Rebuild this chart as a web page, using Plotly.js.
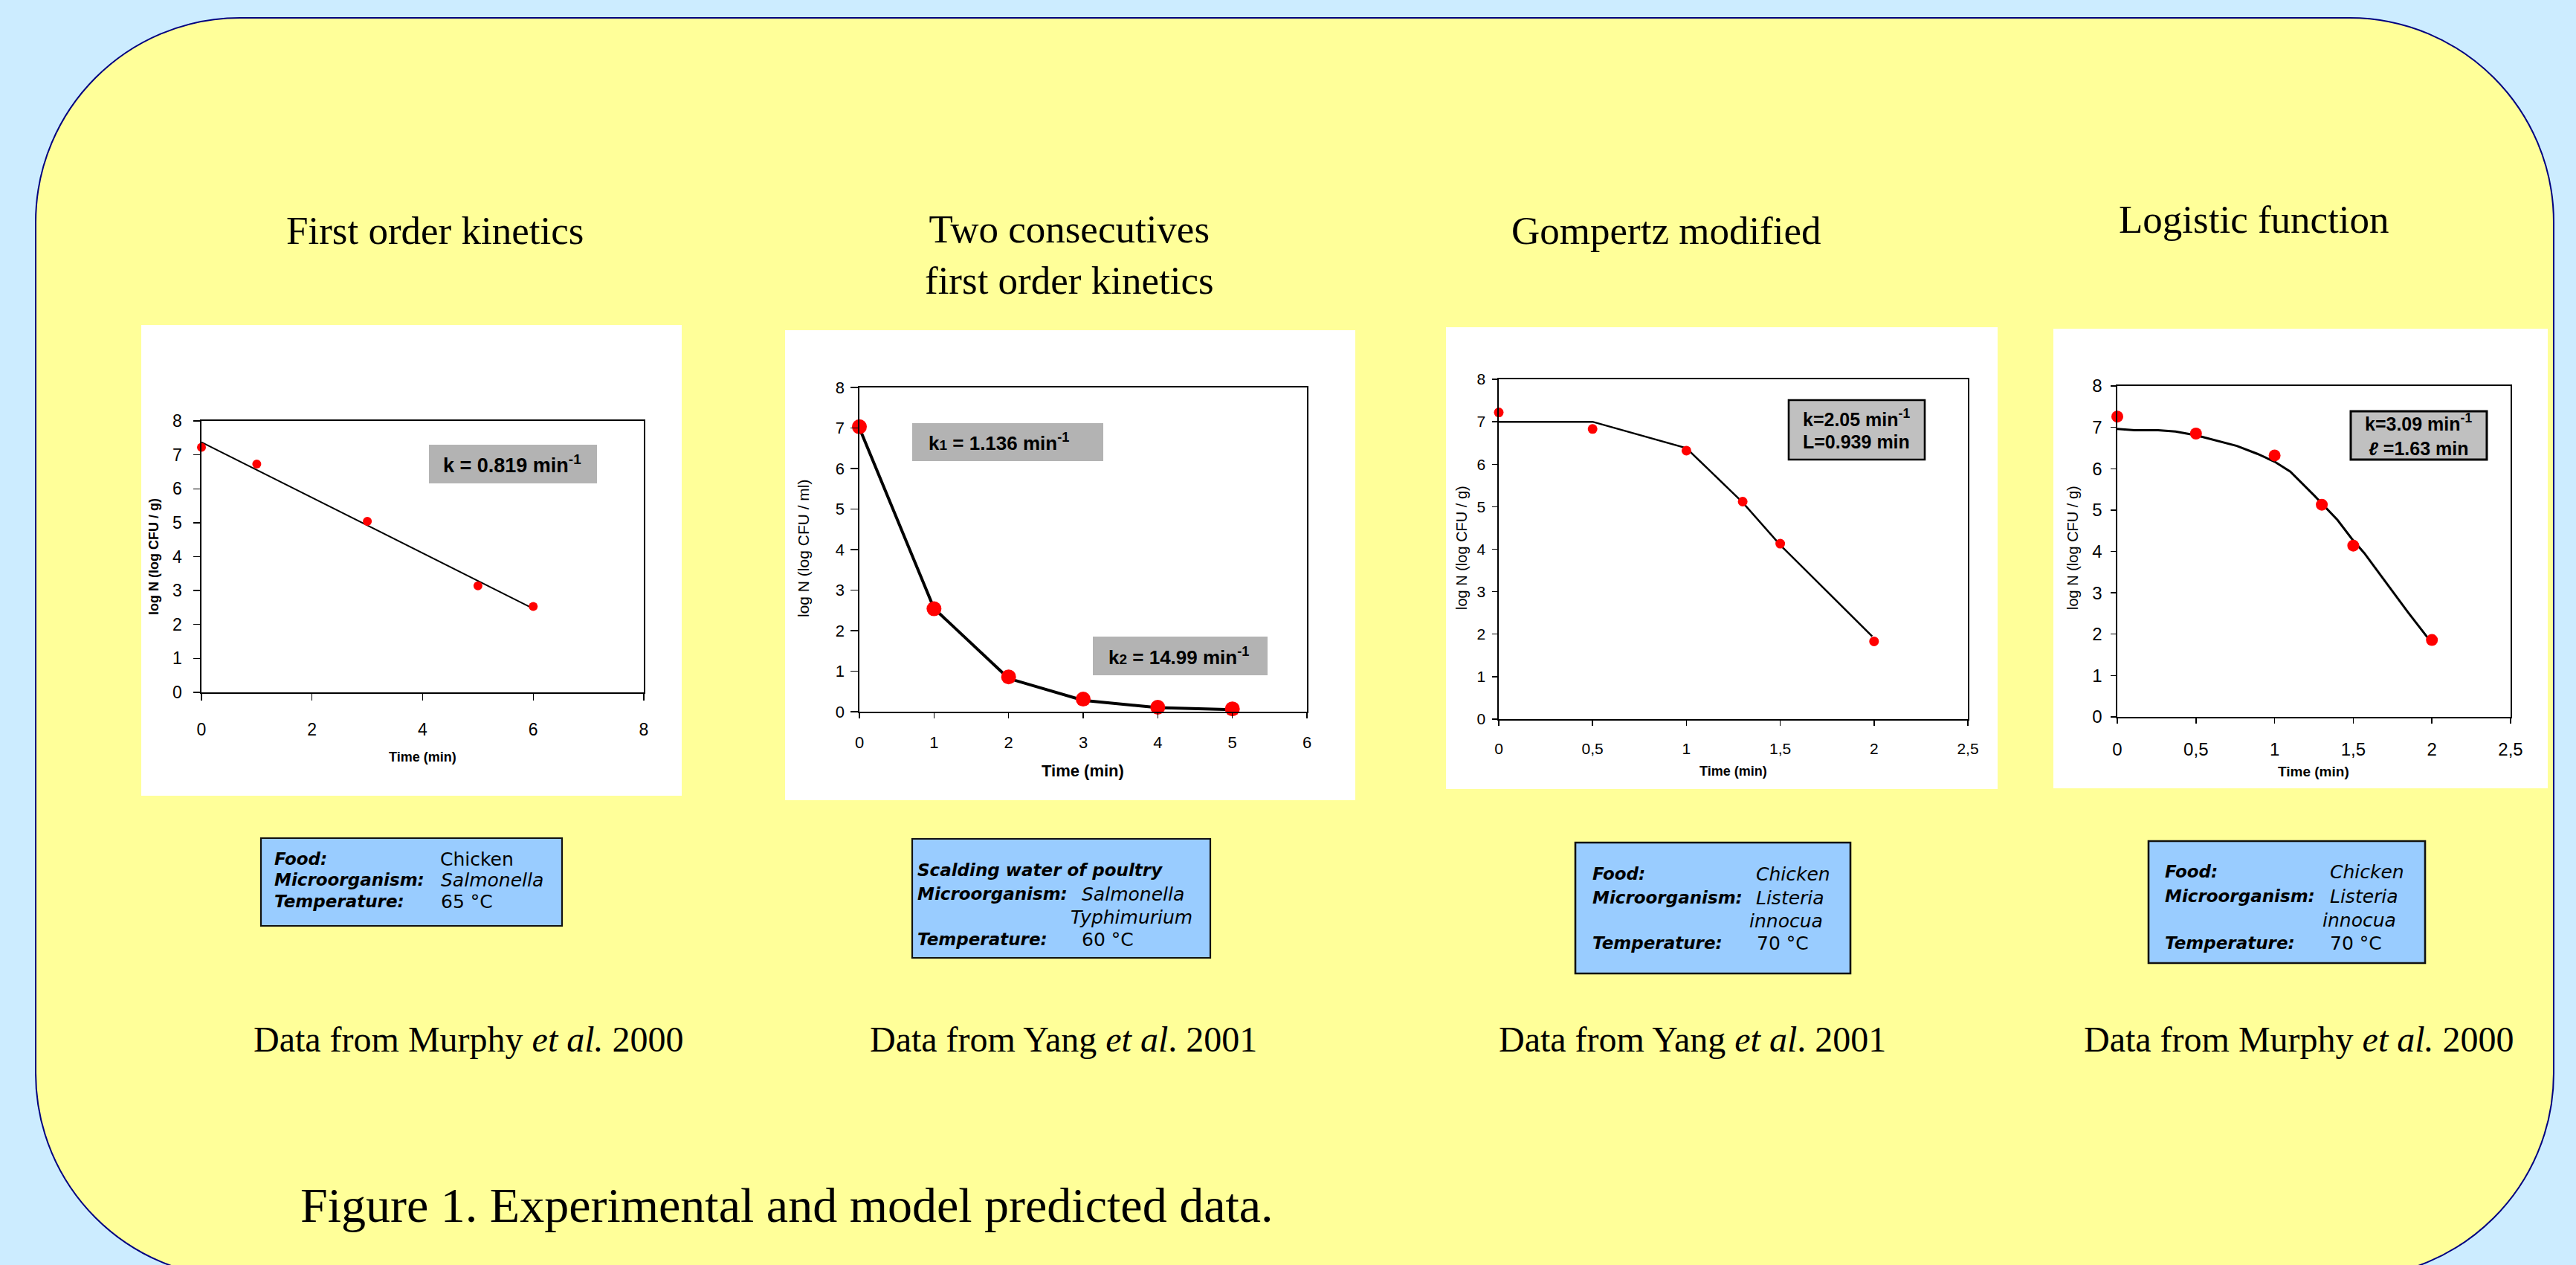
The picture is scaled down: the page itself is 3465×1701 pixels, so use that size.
<!DOCTYPE html>
<html>
<head>
<meta charset="utf-8">
<script src="https://cdn.plot.ly/plotly-3.0.1.min.js"></script>
<style>html,body{margin:0;padding:0;overflow:hidden;background:#CCECFF;}#chart{width:3465px;height:1701px;}</style>
</head>
<body>
<div id="chart"></div>
<script>
// ---------- DATA ----------
// Panel 1: First order kinetics (Murphy et al. 2000)
const p1Time = [0, 1, 3, 5, 6];
const p1LogN = [7.22, 6.73, 5.04, 3.14, 2.53];
const p1FitTime = [0, 6];
const p1FitLogN = [7.37, 2.47];
// Panel 2: Two consecutive first order kinetics (Yang et al. 2001)
const p2Time = [0, 1, 2, 3, 4, 5];
const p2LogN = [7.03, 2.54, 0.86, 0.31, 0.11, 0.07];
const p2FitTime = [0, 1, 2, 3, 4, 5];
const p2FitLogN = [7.0, 2.55, 0.82, 0.28, 0.10, 0.05];
// Panel 3: Gompertz modified (Yang et al. 2001)
const p3Time = [0, 0.5, 1, 1.3, 1.5, 2];
const p3LogN = [7.22, 6.83, 6.32, 5.12, 4.13, 1.83];
const p3FitTime = [0, 0.5, 1, 1.3, 1.5, 1.99];
const p3FitLogN = [7.0, 7.0, 6.38, 5.1, 4.1, 1.95];
// Panel 4: Logistic function (Murphy et al. 2000)
const p4Time = [0, 0.5, 1, 1.3, 1.5, 2];
const p4LogN = [7.26, 6.85, 6.32, 5.13, 4.14, 1.86];
const p4FitTime = [0, 0.11, 0.26, 0.37, 0.5, 0.76, 0.89, 1.0, 1.1, 1.25, 1.4, 1.49, 1.57, 1.75, 1.85, 1.98];
const p4FitLogN = [6.96, 6.93, 6.93, 6.9, 6.81, 6.55, 6.36, 6.17, 5.93, 5.36, 4.76, 4.31, 3.96, 3.03, 2.52, 1.88];
// Tick labels
const p34TickVals = [0, 0.5, 1, 1.5, 2, 2.5];
const p34TickText = ['0', '0,5', '1', '1,5', '2', '2,5'];
const panelTitles = ['First order kinetics', 'Two consecutives<br>first order kinetics', 'Gompertz modified', 'Logistic function'];
const sources = ['Data from Murphy <i>et al.</i> 2000', 'Data from Yang <i>et al</i>. 2001', 'Data from Yang <i>et al</i>. 2001', 'Data from Murphy <i>et al.</i> 2000'];

// ---------- LAYOUT HELPERS ----------
const W = 3465, H = 1701;
const X = p => p / W;
const Y = p => 1 - p / H;
const SANS = 'Liberation Sans, Arial, sans-serif';
const SERIF = 'Liberation Serif, Times New Roman, serif';
const GOTH = 'DejaVu Sans, Verdana, sans-serif';

function xAx(x0, x1, range, ticks, tickfont, ticklen, standoff, anchor) {
  const a = {domain: [X(x0), X(x1)], range: range, anchor: anchor, showgrid: false, zeroline: false,
    showline: true, mirror: true, linecolor: '#000', linewidth: 1.6, ticks: 'outside', ticklen: ticklen,
    tickwidth: 1.4, tickcolor: '#000', tickfont: {family: SANS, size: tickfont, color: '#000'},
    ticklabelstandoff: standoff, fixedrange: true};
  Object.assign(a, ticks);
  return a;
}
function yAx(y0, y1, tickfont, ticklen, standoff, anchor) {
  return {domain: [Y(y1), Y(y0)], range: [0, 8], dtick: 1, tick0: 0, anchor: anchor, showgrid: false, zeroline: false,
    showline: true, mirror: true, linecolor: '#000', linewidth: 1.6, ticks: 'outside', ticklen: ticklen,
    tickwidth: 1.4, tickcolor: '#000', tickfont: {family: SANS, size: tickfont, color: '#000'},
    ticklabelstandoff: standoff, fixedrange: true};
}

const traces = [
  {x: p1FitTime, y: p1FitLogN, xaxis: 'x', yaxis: 'y', mode: 'lines', line: {color: '#000', width: 2}, cliponaxis: false},
  {x: p1Time, y: p1LogN, xaxis: 'x', yaxis: 'y', mode: 'markers', marker: {color: '#FF0000', size: 12}, cliponaxis: false},
  {x: p2FitTime, y: p2FitLogN, xaxis: 'x2', yaxis: 'y2', mode: 'lines', line: {color: '#000', width: 4}, cliponaxis: false},
  {x: p2Time, y: p2LogN, xaxis: 'x2', yaxis: 'y2', mode: 'markers', marker: {color: '#FF0000', size: 20}, cliponaxis: false},
  {x: p3FitTime, y: p3FitLogN, xaxis: 'x3', yaxis: 'y3', mode: 'lines', line: {color: '#000', width: 2.5}, cliponaxis: false},
  {x: p3Time, y: p3LogN, xaxis: 'x3', yaxis: 'y3', mode: 'markers', marker: {color: '#FF0000', size: 13}, cliponaxis: false},
  {x: p4FitTime, y: p4FitLogN, xaxis: 'x4', yaxis: 'y4', mode: 'lines', line: {color: '#000', width: 3}, cliponaxis: false},
  {x: p4Time, y: p4LogN, xaxis: 'x4', yaxis: 'y4', mode: 'markers', marker: {color: '#FF0000', size: 16}, cliponaxis: false}
];

// ---------- SHAPES ----------
function roundRectPath(x0, y0, x1, y1, r) {
  const k = 0.5523 * r;
  const P = (x, y) => X(x) + ',' + Y(y);
  return 'M' + P(x0 + r, y0) + ' L' + P(x1 - r, y0) +
    ' C' + P(x1 - r + k, y0) + ' ' + P(x1, y0 + r - k) + ' ' + P(x1, y0 + r) +
    ' L' + P(x1, y1 - r) +
    ' C' + P(x1, y1 - r + k) + ' ' + P(x1 - r + k, y1) + ' ' + P(x1 - r, y1) +
    ' L' + P(x0 + r, y1) +
    ' C' + P(x0 + r - k, y1) + ' ' + P(x0, y1 - r + k) + ' ' + P(x0, y1 - r) +
    ' L' + P(x0, y0 + r) +
    ' C' + P(x0, y0 + r - k) + ' ' + P(x0 + r - k, y0) + ' ' + P(x0 + r, y0) + ' Z';
}
function rect(x0, y0, x1, y1, fill, lineColor, lineWidth, layer) {
  return {type: 'rect', xref: 'paper', yref: 'paper', x0: X(x0), x1: X(x1), y0: Y(y1), y1: Y(y0),
    fillcolor: fill, line: {color: lineColor || fill, width: lineWidth || 0}, layer: layer || 'below'};
}
const shapes = [
  {type: 'path', xref: 'paper', yref: 'paper', path: roundRectPath(48, 24, 3435, 1718, 275),
    fillcolor: '#FFFF99', line: {color: '#000080', width: 2}, layer: 'below'},
  rect(190, 437, 917, 1070, '#FFFFFF'),
  rect(1056, 444, 1823, 1076, '#FFFFFF'),
  rect(1945, 440, 2687, 1061, '#FFFFFF'),
  rect(2762, 442, 3427, 1060, '#FFFFFF'),
  // info boxes
  rect(351, 1127, 756, 1245, '#99CCFF', '#111', 2.2, 'above'),
  rect(1227, 1128, 1628, 1288, '#99CCFF', '#111', 2.2, 'above'),
  rect(2119, 1133, 2489, 1309, '#99CCFF', '#111', 2.6, 'above'),
  rect(2890, 1131, 3262, 1295, '#99CCFF', '#111', 2.6, 'above'),
  // parameter boxes
  rect(577, 598, 803, 650, '#B3B3B3', null, 0, 'above'),
  rect(1227, 569, 1484, 620, '#B3B3B3', null, 0, 'above'),
  rect(1470, 856, 1705, 908, '#B3B3B3', null, 0, 'above'),
  rect(2406, 538, 2589, 618, '#C0C0C0', '#000', 2.6, 'above'),
  rect(3162, 553, 3345, 618, '#C0C0C0', '#000', 3, 'above')
];

// ---------- ANNOTATIONS ----------
const ann = [];
function txt(text, x, y, size, family, opts) {
  const a = {text: text, xref: 'paper', yref: 'paper', x: X(x), y: Y(y), showarrow: false,
    xanchor: 'center', yanchor: 'middle', font: {family: family, size: size, color: '#000'}};
  Object.assign(a, opts || {});
  ann.push(a);
}
// panel titles
txt(panelTitles[0], 585, 310, 53, SERIF);
txt(panelTitles[1], 1438, 343, 53, SERIF);
txt(panelTitles[2], 2241, 310, 53, SERIF);
txt(panelTitles[3], 3032, 295, 53, SERIF);
// sources
txt(sources[0], 630, 1397, 48, SERIF);
txt(sources[1], 1430, 1397, 48, SERIF);
txt(sources[2], 2276, 1397, 48, SERIF);
txt(sources[3], 3092, 1397, 48, SERIF);
// caption
txt('Figure 1. Experimental and model predicted data.', 402, 1620, 66, SERIF, {xanchor: 'left'});

// axis titles
txt('<b>log N (log CFU / g)</b>', 207, 749, 18, SANS, {textangle: -90});
txt('<b>Time (min)</b>', 568, 1018, 18, SANS);
txt('log N (log CFU / ml)', 1080, 737, 21, SANS, {textangle: -90});
txt('<b>Time (min)</b>', 1456, 1036, 22, SANS);
txt('log N (log CFU / g)', 1966, 737, 20, SANS, {textangle: -90});
txt('<b>Time (min)</b>', 2331, 1037, 18, SANS);
txt('log N (log CFU / g)', 2788, 737, 20, SANS, {textangle: -90});
txt('<b>Time (min)</b>', 3112, 1037, 19, SANS);

// parameter box texts
txt('<b>k = 0.819 min<sup>-1</sup></b>', 689, 624, 27, SANS);
txt('<b>k<span style="font-size:19px">1</span> = 1.136 min<sup>-1</sup></b>', 1247, 594, 26, SANS, {xanchor: 'left'});
txt('<b>k<span style="font-size:19px">2</span> = 14.99 min<sup>-1</sup></b>', 1489, 882, 26, SANS, {xanchor: 'left'});
txt('<b>k=2.05 min<sup>-1</sup></b>', 2497, 562, 25, SANS);
txt('<b>L=0.939 min</b>', 2497, 594, 25, SANS);
txt('<b>k=3.09 min<sup>-1</sup></b>', 3253, 568, 25, SANS);
txt('<b><i>ℓ</i> =1.63 min</b>', 3253, 603, 25, SANS);

// info box texts
const L = {xanchor: 'left'};
function lab(t, x, y) { txt('<b><i>' + t + '</i></b>', x, y, 23, GOTH, L); }
function val(t, x, y) { txt(t, x, y, 25, GOTH, L); }
lab('Food:', 367, 1155); lab('Microorganism:', 367, 1183); lab('Temperature:', 367, 1212);
val('Chicken', 590, 1155); val('<i>Salmonella</i>', 591, 1183); val('65 °C', 591, 1212);

lab('Scalding water of poultry', 1232, 1170); lab('Microorganism:', 1232, 1202); lab('Temperature:', 1232, 1263);
val('<i>Salmonella</i>', 1453, 1202); val('<i>Typhimurium</i>', 1438, 1233); val('60 °C', 1453, 1263);

lab('Food:', 2140, 1175); lab('Microorganism:', 2140, 1207); lab('Temperature:', 2140, 1268);
val('<i>Chicken</i>', 2360, 1175); val('<i>Listeria</i>', 2360, 1207); val('<i>innocua</i>', 2351, 1238); val('70 °C', 2361, 1268);

lab('Food:', 2910, 1172); lab('Microorganism:', 2910, 1205); lab('Temperature:', 2910, 1268);
val('<i>Chicken</i>', 3132, 1172); val('<i>Listeria</i>', 3132, 1205); val('<i>innocua</i>', 3122, 1237); val('70 °C', 3132, 1268);

const layout = {
  width: W, height: H,
  margin: {l: 0, r: 0, t: 0, b: 0, pad: 0},
  paper_bgcolor: '#CCECFF', plot_bgcolor: '#FFFFFF',
  showlegend: false, hovermode: false,
  xaxis: xAx(271, 866, [0, 8], {dtick: 2, tick0: 0}, 23, 9, 20, 'y'),
  yaxis: yAx(566, 931, 23, 9, 11, 'x'),
  xaxis2: xAx(1156, 1758, [0, 6], {dtick: 1, tick0: 0}, 22, 7, 14, 'y2'),
  yaxis2: yAx(521, 957, 22, 10, 4, 'x2'),
  xaxis3: xAx(2016, 2647, [0, 2.5], {tickmode: 'array', tickvals: p34TickVals, ticktext: p34TickText}, 21, 7, 13, 'y3'),
  yaxis3: yAx(510, 967, 21, 7, 5, 'x3'),
  xaxis4: xAx(2848, 3377, [0, 2.5], {tickmode: 'array', tickvals: p34TickVals, ticktext: p34TickText}, 24, 7, 15, 'y4'),
  yaxis4: yAx(519, 964, 24, 7, 7, 'x4'),
  shapes: shapes,
  annotations: ann
};

Plotly.newPlot('chart', traces, layout, {displayModeBar: false, staticPlot: true});
</script>
</body>
</html>
